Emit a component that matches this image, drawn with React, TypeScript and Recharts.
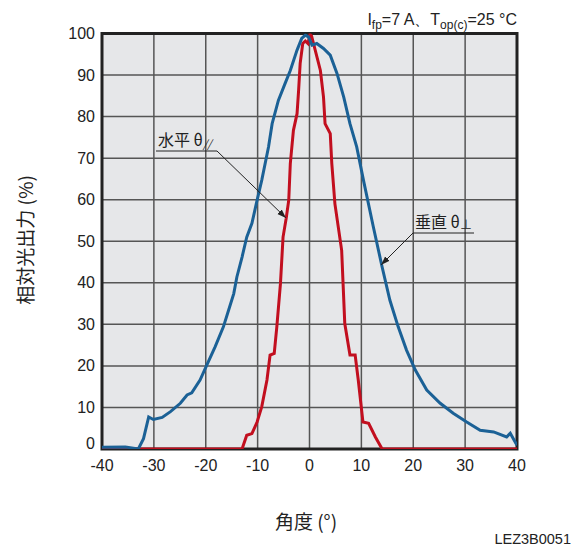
import { LineChart, Line, CartesianGrid, XAxis, YAxis, ReferenceArea } from 'recharts';

// 垂直 θ⊥ (blue)
const vertAngles = [-40, -35.5, -33, -32, -31, -30.1, -28.4, -26.8, -24.9, -23.6, -22.7, -21.1, -19.8, -18.2, -16.6, -15.6, -14.6, -14.0, -13.0, -12.1, -11.1, -10.1, -9.2, -7.9, -7.2, -6.0, -4.7, -3.7, -2.4, -1.5, -0.8, -0.2, 0.5, 1.4, 2.7, 4.0, 5.3, 6.6, 7.8, 9.1, 10.4, 12.3, 14.0, 15.5, 17.1, 18.7, 20.4, 22.6, 25.2, 27.7, 30.3, 32.9, 35.5, 38.0, 38.7, 40];
const vertValues = [0.4, 0.5, 0, 2.5, 7.7, 7.1, 7.6, 9.0, 11.0, 13.0, 13.5, 16.6, 20.2, 24.6, 29.4, 33.4, 37.4, 41.4, 46.2, 51, 54.3, 59.9, 64.7, 72.7, 78.3, 83.9, 88, 91.1, 96, 98.8, 99.6, 99.2, 97.2, 97.6, 96.4, 94.8, 90.4, 84.7, 78.3, 72.7, 64.7, 53.5, 43.8, 35.8, 29.4, 23.8, 19.0, 14.2, 11.0, 8.6, 6.5, 4.5, 4.1, 2.9, 3.8, 0.9];

// 水平 θ// (red)
const horizAngles = [-40, -13.0, -12.1, -11.1, -10.1, -9.2, -8.2, -7.6, -6.8, -6.3, -5.6, -5.1, -4.5, -4.0, -3.7, -3.1, -2.4, -2.1, -1.8, -1.3, -0.8, -0.3, 0.1, 0.4, 1.1, 2.1, 2.7, 3.0, 4.0, 4.3, 4.9, 6.2, 6.8, 7.8, 8.8, 9.4, 10.3, 11.4, 12.7, 14.0, 40];
const horizValues = [0, 0, 3.3, 3.7, 6.5, 10.2, 16.6, 22.6, 23.0, 29.4, 39.8, 51, 55.5, 59.9, 68.7, 76.7, 80.7, 86.3, 92.8, 97.6, 98.2, 97.6, 99.8, 99.4, 96, 91.1, 84.7, 78.3, 75.9, 68.7, 59, 47.8, 30.2, 22.6, 22.6, 16.6, 6.5, 6.2, 2.9, 0, 0];

const xTicks = [-40, -30, -20, -10, 0, 10, 20, 30, 40];
const yTicks = [0, 10, 20, 30, 40, 50, 60, 70, 80, 90, 100];

const vertData = vertAngles.map((x, i) => ({ x, y: vertValues[i] }));
const horizData = horizAngles.map((x, i) => ({ x, y: horizValues[i] }));

const font = '"Liberation Sans", Arial, sans-serif';
const cjk = '"Noto Sans CJK JP", "Liberation Sans", sans-serif';

const YTick = (props: any) => {
  const { y, payload } = props;
  const dy = payload.value === 0 ? -6 : 0;
  return (
    <text x={87} y={y + dy} textAnchor="end" dominantBaseline="central" fontSize={16} fontFamily={font} fill="#222">
      {payload.value}
    </text>
  );
};

const XTick = (props: any) => {
  const { x, payload } = props;
  return (
    <text x={x} y={457} textAnchor="middle" dominantBaseline="central" fontSize={16} fontFamily={font} fill="#222">
      {payload.value}
    </text>
  );
};

export default function App() {
  return (
    <div style={{ position: 'fixed', left: 0, top: 0, width: 576, height: 546, overflow: 'hidden', background: '#fff' }}>
      <div style={{ position: 'absolute', left: 8, top: 8 }}>
        <LineChart width={560} height={530} margin={{ top: 25.5, right: 51, bottom: 59, left: 34 }}>
          <CartesianGrid fill="#e6e7e9" stroke="#555" strokeWidth={1.5} horizontalValues={yTicks} verticalValues={xTicks} />
          <XAxis dataKey="x" type="number" domain={[-40, 40]} ticks={xTicks} allowDataOverflow axisLine={false} tickLine={false} height={30} tick={<XTick />} />
          <YAxis type="number" domain={[0, 100]} ticks={yTicks} allowDataOverflow axisLine={false} tickLine={false} width={60} tick={<YTick />} />
          <Line data={horizData} dataKey="y" type="linear" stroke="#c20f1f" strokeWidth={3} dot={false} isAnimationActive={false} />
          <Line data={vertData} dataKey="y" type="linear" stroke="#1b6196" strokeWidth={3} dot={false} isAnimationActive={false} />
          <ReferenceArea x1={-40} x2={40} y1={0} y2={100} fill="none" stroke="#222" strokeWidth={3} ifOverflow="visible" />
        </LineChart>
      </div>
      <svg width={576} height={546} style={{ position: 'absolute', left: 0, top: 0, pointerEvents: 'none' }}>
        <defs>
          <marker id="arr" viewBox="0 0 10 10" refX="10" refY="5" markerWidth="9" markerHeight="9" orient="auto-start-reverse">
            <path d="M0,1.5 L10,5 L0,8.5 z" fill="#222" />
          </marker>
        </defs>
        <text x={517} y={25} textAnchor="end" fontSize={16} fontFamily={font} fill="#222">
          I<tspan fontSize={12} dy={4}>fp</tspan>
          <tspan dy={-4}>=7 A、T</tspan>
          <tspan fontSize={12} dy={4}>op(c)</tspan>
          <tspan dy={-4}>=25 °C</tspan>
        </text>
        <text transform="translate(24,240) rotate(-90)" textAnchor="middle" dominantBaseline="central" fontSize={19} fontFamily={cjk} fill="#222">
          相対光出力 (%)
        </text>
        <text x={306} y={520} textAnchor="middle" dominantBaseline="central" fontSize={19} fontFamily={cjk} fill="#222">
          角度 (°)
        </text>
        <text x={571} y={539} textAnchor="end" dominantBaseline="central" fontSize={14.5} fontFamily={font} fill="#222">
          LEZ3B0051
        </text>
        {/* 水平 θ// */}
        <text x={158} y={146} fontSize={16} fontFamily={cjk} fill="#222">
          水平 θ<tspan fontSize={11} fontStyle="italic" dy={2}>//</tspan>
        </text>
        <line x1={156} y1={151} x2={217} y2={151} stroke="#222" strokeWidth={1} />
        <line x1={217} y1={151} x2={286} y2={218} stroke="#222" strokeWidth={1} markerEnd="url(#arr)" />
        {/* 垂直 θ⊥ */}
        <text x={415} y={228} fontSize={16} fontFamily={cjk} fill="#222">
          垂直 θ<tspan fontSize={12} dy={1}>⊥</tspan>
        </text>
        <line x1={413} y1={233} x2={474} y2={233} stroke="#222" strokeWidth={1} />
        <line x1={413} y1={233} x2={381} y2={265} stroke="#222" strokeWidth={1} markerEnd="url(#arr)" />
      </svg>
    </div>
  );
}
